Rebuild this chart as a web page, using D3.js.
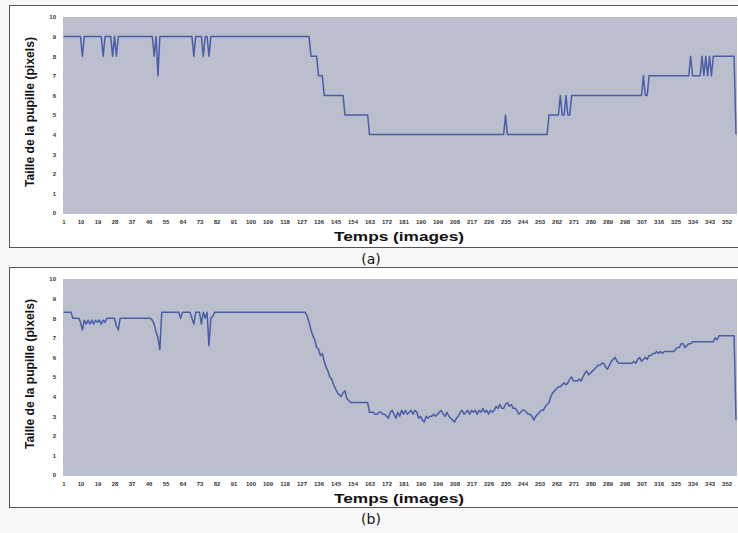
<!DOCTYPE html>
<html>
<head>
<meta charset="utf-8">
<script src="https://cdn.jsdelivr.net/npm/d3@7"></script>
<style>
  body { margin: 0; background: #f8f8f8; }
  svg { display: block; }
  .tick text { font-family: "Liberation Sans", Arial, sans-serif; font-weight: bold; fill: #333; }
</style>
</head>
<body>
<script>
// pupil size per frame, panel (a) - raw measure (pixels)
var pupilA = [
  9,9,9,9,9,9,9,9,9,9,
  8,9,9,9,9,9,9,9,9,9,
  9,8,9,9,9,9,8,9,8,9,
  9,9,9,9,9,9,9,9,9,9,
  9,9,9,9,9,9,9,9,8,9,
  7,9,9,9,9,9,9,9,9,9,
  9,9,9,9,9,9,9,9,9,8,
  9,9,9,9,8,9,9,8,9,9,
  9,9,9,9,9,9,9,9,9,9,
  9,9,9,9,9,9,9,9,9,9,
  9,9,9,9,9,9,9,9,9,9,
  9,9,9,9,9,9,9,9,9,9,
  9,9,9,9,9,9,9,9,9,9,
  9,8,8,8,8,7,7,7,6,6,
  6,6,6,6,6,6,6,6,6,5,
  5,5,5,5,5,5,5,5,5,5,
  5,5,4,4,4,4,4,4,4,4,
  4,4,4,4,4,4,4,4,4,4,
  4,4,4,4,4,4,4,4,4,4,
  4,4,4,4,4,4,4,4,4,4,
  4,4,4,4,4,4,4,4,4,4,
  4,4,4,4,4,4,4,4,4,4,
  4,4,4,4,4,4,4,4,4,4,
  4,4,4,4,5,4,4,4,4,4,
  4,4,4,4,4,4,4,4,4,4,
  4,4,4,4,4,4,4,5,5,5,
  5,5,5,6,5,5,6,5,5,6,
  6,6,6,6,6,6,6,6,6,6,
  6,6,6,6,6,6,6,6,6,6,
  6,6,6,6,6,6,6,6,6,6,
  6,6,6,6,6,6,6,7,6,6,
  7,7,7,7,7,7,7,7,7,7,
  7,7,7,7,7,7,7,7,7,7,
  7,7,8,7,7,7,7,7,8,7,
  8,7,8,7,8,8,8,8,8,8,
  8,8,8,8,8,8,4
];

// pupil size per frame, panel (b) - smoothed measure (pixels)
var pupilB = [
  8.3,8.3,8.3,8.3,8.3,8.0,8.0,8.0,8.0,7.8,
  7.4,7.9,7.7,7.9,7.7,7.9,7.7,7.9,7.8,7.9,
  7.7,7.9,7.8,8.0,8.0,8.0,8.0,8.0,7.6,7.4,
  8.0,8.0,8.0,8.0,8.0,8.0,8.0,8.0,8.0,8.0,
  8.0,8.0,8.0,8.0,8.0,8.0,8.0,7.9,7.7,7.3,
  7.0,6.4,8.3,8.3,8.3,8.3,8.3,8.3,8.3,8.3,
  8.3,8.3,8.0,8.3,8.3,8.3,8.3,8.3,8.0,7.7,
  8.3,8.3,8.3,7.7,8.3,8.0,8.3,6.6,8.0,8.1,
  8.3,8.3,8.3,8.3,8.3,8.3,8.3,8.3,8.3,8.3,
  8.3,8.3,8.3,8.3,8.3,8.3,8.3,8.3,8.3,8.3,
  8.3,8.3,8.3,8.3,8.3,8.3,8.3,8.3,8.3,8.3,
  8.3,8.3,8.3,8.3,8.3,8.3,8.3,8.3,8.3,8.3,
  8.3,8.3,8.3,8.3,8.3,8.3,8.3,8.3,8.3,8.1,
  7.8,7.4,7.1,6.9,6.5,6.4,6.1,6.2,5.8,5.5,
  5.3,5.0,4.9,4.6,4.4,4.2,4.1,4.0,4.2,4.3,
  3.9,3.8,3.7,3.7,3.7,3.7,3.7,3.7,3.7,3.7,
  3.7,3.7,3.2,3.2,3.2,3.1,3.1,3.2,3.2,3.1,
  3.1,3.0,2.9,3.2,3.3,3.1,2.9,3.2,3.0,3.3,
  3.1,3.3,3.1,3.2,3.3,3.1,3.3,3.2,2.9,3.0,
  2.8,2.7,3.0,2.9,3.0,3.0,3.1,3.0,3.1,3.2,
  3.3,3.1,3.0,3.2,3.0,2.9,2.8,2.7,2.9,3.0,
  3.2,3.3,3.1,3.2,3.3,3.1,3.3,3.2,3.3,3.1,
  3.3,3.2,3.4,3.2,3.3,3.1,3.3,3.2,3.3,3.5,
  3.4,3.6,3.4,3.4,3.6,3.7,3.5,3.6,3.4,3.4,
  3.3,3.1,3.2,3.3,3.3,3.2,3.1,3.1,3.0,2.8,
  3.0,3.1,3.2,3.3,3.3,3.5,3.6,3.7,4.0,4.2,
  4.3,4.4,4.5,4.5,4.6,4.7,4.6,4.7,4.9,5.0,
  4.8,4.8,4.8,4.9,4.8,5.0,5.2,5.3,5.1,5.2,
  5.3,5.4,5.5,5.6,5.6,5.7,5.7,5.5,5.4,5.6,
  5.8,5.9,6.0,5.8,5.7,5.7,5.7,5.7,5.7,5.7,
  5.7,5.7,5.8,5.7,5.9,6.0,5.8,5.9,6.0,5.9,
  6.1,6.1,6.2,6.2,6.3,6.2,6.3,6.2,6.3,6.3,
  6.3,6.3,6.3,6.3,6.4,6.5,6.5,6.7,6.7,6.5,
  6.6,6.7,6.7,6.8,6.8,6.8,6.8,6.8,6.8,6.8,
  6.8,6.8,6.8,6.8,6.8,7.0,6.9,7.1,7.1,7.1,
  7.1,7.1,7.1,7.1,7.1,7.1,2.8
];

var xTickLabels = [1,10,19,28,37,46,55,64,73,82,91,100,109,118,127,136,145,154,163,172,
  181,190,199,208,217,226,235,244,253,262,271,280,289,298,307,316,325,334,343,352];
var yTickLabels = [0,1,2,3,4,5,6,7,8,9,10];

var svgWidth = 738;
var svgHeight = 533;

var svg = d3.select("body")
  .append("svg")
  .attr("width", svgWidth)
  .attr("height", svgHeight);

// layout of the two stacked panels
var panels = [
  { data: pupilA, top: 17, bottom: 213, frameTop: 5, frameBottom: 247, caption: "(a)", captionY: 264 },
  { data: pupilB, top: 279, bottom: 475, frameTop: 267, frameBottom: 507, caption: "(b)", captionY: 524 }
];

var plotLeft = 63;
var plotRight = 737;

panels.forEach(function(p) {
  var g = svg.append("g");

  // white frame around the chart
  g.append("rect")
    .attr("x", 9.5)
    .attr("y", p.frameTop + 0.5)
    .attr("width", 740)
    .attr("height", p.frameBottom - p.frameTop)
    .attr("fill", "#fff")
    .attr("stroke", "#555")
    .attr("stroke-width", 1);

  // grey plot area
  g.append("rect")
    .attr("x", plotLeft)
    .attr("y", p.top)
    .attr("width", plotRight - plotLeft)
    .attr("height", p.bottom - p.top + 1)
    .attr("fill", "#babecd");

  var x = d3.scaleLinear()
    .domain([1, p.data.length])
    .range([plotLeft + 0.5, plotRight - 1]);

  var y = d3.scaleLinear()
    .domain([0, 10])
    .range([p.bottom, p.top]);

  var bottomAxis = d3.axisBottom(x)
    .tickValues(xTickLabels)
    .tickSize(0)
    .tickPadding(7);

  var leftAxis = d3.axisLeft(y)
    .tickValues(yTickLabels)
    .tickSize(0)
    .tickPadding(7);

  var xg = g.append("g")
    .attr("transform", "translate(0," + p.bottom + ")")
    .call(bottomAxis);
  xg.select(".domain").remove();
  xg.selectAll("text").style("font-size", "6px");

  var yg = g.append("g")
    .attr("transform", "translate(" + plotLeft + ",0)")
    .call(leftAxis);
  yg.select(".domain").remove();
  yg.selectAll("text").style("font-size", "6px");

  var drawLine = d3.line()
    .x(function(d, i) { return x(i + 1); })
    .y(function(d) { return y(d); });

  g.append("path")
    .attr("d", drawLine(p.data))
    .attr("fill", "none")
    .attr("stroke", "#4a5ea8")
    .attr("stroke-width", 1.5)
    .attr("stroke-linejoin", "round");

  // axis titles
  g.append("text")
    .attr("x", 399)
    .attr("y", p.bottom + 28)
    .attr("text-anchor", "middle")
    .attr("textLength", 130)
    .attr("lengthAdjust", "spacingAndGlyphs")
    .style("font-family", "'Liberation Sans', Arial, sans-serif")
    .style("font-weight", "bold")
    .style("font-size", "12px")
    .style("fill", "#111")
    .text("Temps (images)");

  g.append("text")
    .attr("transform", "translate(34," + ((p.top + p.bottom) / 2 - 3) + ") rotate(-90)")
    .attr("text-anchor", "middle")
    .attr("textLength", 150)
    .attr("lengthAdjust", "spacingAndGlyphs")
    .style("font-family", "'Liberation Sans', Arial, sans-serif")
    .style("font-weight", "bold")
    .style("font-size", "12px")
    .style("fill", "#111")
    .text("Taille de la pupille (pixels)");
});

// captions drawn last so no frame covers them
panels.forEach(function(p) {
  svg.append("text")
    .attr("x", 371)
    .attr("y", p.captionY)
    .attr("text-anchor", "middle")
    .style("font-family", "'DejaVu Sans', sans-serif")
    .style("font-size", "14px")
    .style("fill", "#111")
    .text(p.caption);
});
</script>
</body>
</html>
